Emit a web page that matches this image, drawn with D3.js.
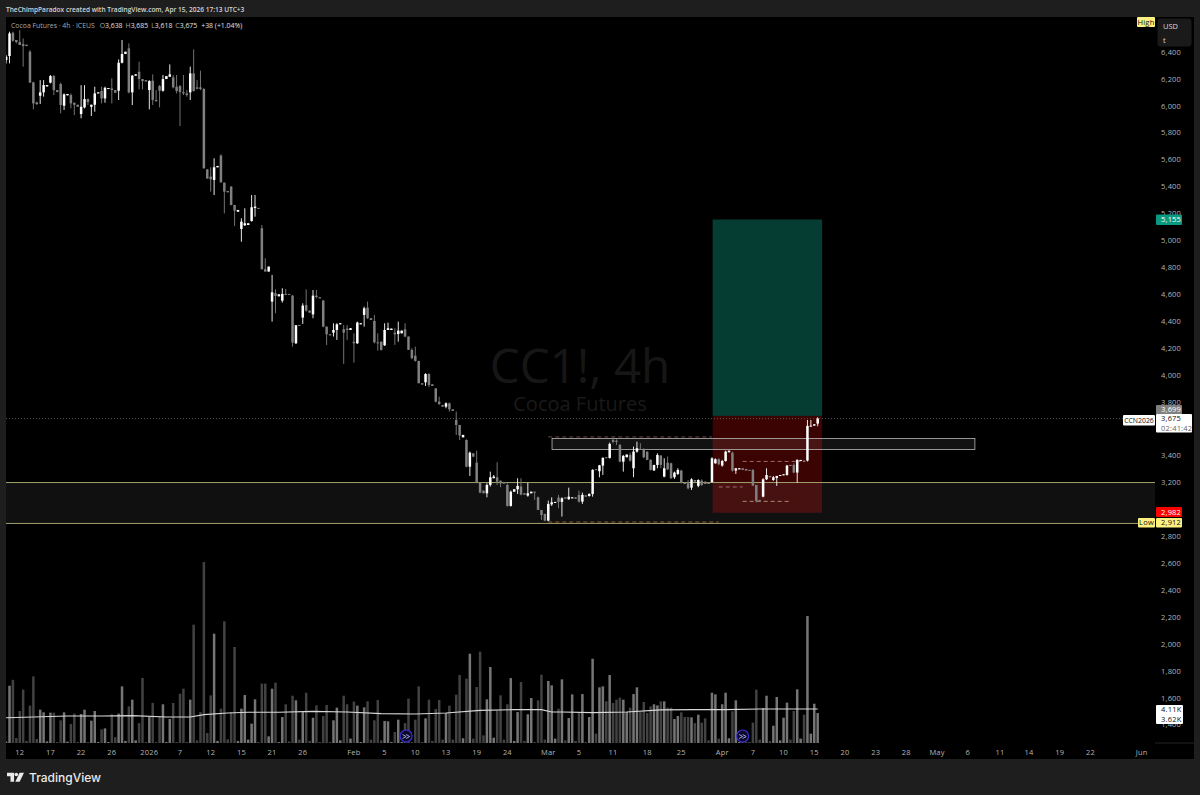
<!DOCTYPE html>
<html><head><meta charset="utf-8">
<script src="https://cdn.jsdelivr.net/npm/d3@7/dist/d3.min.js"></script>
<style>html,body{margin:0;padding:0;background:#1e1e1e;overflow:hidden}svg{display:block}text{font-family:"Open Sans",Roboto,sans-serif}</style>
</head><body><div id="chart"></div>
<script>
const opens=[6340,6370,6543,6489,6474,6459,6454,6402,6174,6026,
6075,6100,6144,6172,6221,6117,6162,6001,6078,6080,
6023,6008,5939,5988,6050,5993,6008,6092,6110,6055,
6127,6129,6117,6112,6320,6385,6427,6100,6224,6253,
6199,6191,6117,6187,6043,6147,6112,6199,6216,6211,
6142,6147,6102,6092,6100,6241,6137,6137,6125,5528,
5474,5449,5543,5630,5429,5367,5399,5263,5213,5085,
5112,5114,5144,5241,5241,5090,4785,4768,4545,4607,
4584,4552,4602,4602,4589,4235,4371,4426,4520,4478,
4450,4589,4577,4552,4359,4302,4314,4334,4376,4339,
4344,4334,4247,4235,4376,4446,4500,4421,4401,4242,
4247,4220,4334,4334,4314,4304,4309,4339,4285,4186,
4143,4104,3938,3945,4007,3930,3900,3801,3777,3764,
3789,3744,3665,3628,3536,3516,3318,3417,3348,3199,
3140,3120,3182,3232,3239,3214,3204,3182,3026,3132,
3150,3170,3120,3103,3120,3132,3090,2996,2967,2917,
3038,3048,3088,3056,3090,3076,3083,3090,3108,3058,
3105,3100,3115,3299,3284,3326,3388,3383,3516,3511,
3479,3355,3388,3405,3306,3430,3450,3447,3430,3368,
3289,3331,3400,3244,3348,3343,3239,3264,3289,3199,
3194,3162,3219,3175,3214,3207,3199,3204,3343,3373,
3326,3360,3425,3422,3289,3298,3306,3301,3294,3294,
3182,3071,3095,3224,3249,3219,3234,3249,3254,3256,
3331,3331,3274,3360,3363,3363,3616,3623,3638];
const highs=[6377,6551,6551,6489,6563,6501,6454,6414,6179,6030,
6191,6191,6154,6229,6229,6117,6172,6092,6088,6092,
6023,6008,6154,6154,6055,6008,6142,6100,6142,6142,
6132,6204,6117,6345,6489,6402,6464,6229,6234,6328,
6199,6191,6191,6234,6117,6154,6229,6221,6308,6229,
6229,6154,6229,6117,6291,6419,6191,6261,6132,5528,
5543,5610,5553,5640,5429,5367,5404,5263,5226,5164,
5238,5127,5337,5337,5241,5114,4867,4805,4743,4636,
4599,4644,4639,4602,4594,4371,4371,4532,4636,4478,
4631,4631,4577,4557,4359,4302,4384,4384,4384,4371,
4371,4347,4309,4396,4384,4507,4545,4421,4446,4309,
4247,4384,4389,4344,4347,4396,4329,4384,4285,4198,
4210,4104,3938,4012,4012,3930,3900,3838,3777,3796,
3794,3744,3727,3628,3554,3521,3430,3417,3437,3199,
3140,3194,3281,3256,3351,3214,3204,3194,3140,3150,
3232,3232,3120,3199,3132,3132,3095,2996,2967,3066,
3090,3056,3108,3090,3090,3162,3090,3090,3140,3125,
3105,3120,3299,3299,3331,3388,3388,3497,3534,3521,
3487,3405,3408,3422,3467,3504,3492,3455,3430,3373,
3331,3417,3405,3380,3393,3348,3281,3306,3294,3199,
3219,3232,3219,3224,3224,3207,3199,3388,3380,3380,
3368,3437,3437,3430,3306,3306,3306,3301,3294,3299,
3182,3071,3232,3306,3249,3249,3249,3256,3261,3331,
3331,3343,3373,3368,3363,3665,3665,3633,3685];
const lows=[6315,6315,6476,6464,6452,6291,6444,6172,5974,6006,
6013,6068,6144,6167,6080,6102,5944,5969,6078,5981,
5931,5993,5907,5981,6006,5924,5956,6092,6018,6023,
6127,6018,6097,6043,6315,6385,6092,6006,6224,6122,
6122,6181,5974,6006,6030,5988,6105,6199,6216,6129,
6092,5850,6080,6068,6043,6105,6122,6117,5535,5459,
5362,5337,5543,5429,5201,5357,5260,5107,5213,4990,
5107,5114,5139,5176,5236,4785,4768,4768,4396,4458,
4584,4537,4594,4597,4210,4230,4364,4379,4470,4463,
4421,4569,4569,4354,4223,4294,4285,4260,4376,4082,
4260,4334,4091,4230,4376,4359,4416,4408,4235,4181,
4181,4215,4334,4334,4223,4247,4309,4280,4186,4116,
4099,3938,3928,3918,3908,3918,3796,3777,3764,3752,
3727,3732,3554,3516,3536,3313,3249,3388,3194,3120,
3120,3090,3170,3232,3182,3165,3192,3021,3021,3132,
3115,3105,3110,3095,3120,3071,2996,2922,2912,2912,
3026,3048,3009,2947,3080,3071,3083,3080,3051,3041,
3095,3095,3095,3294,3239,3256,3383,3378,3492,3479,
3351,3281,3388,3355,3240,3422,3442,3380,3368,3289,
3289,3306,3306,3239,3294,3227,3227,3256,3194,3189,
3150,3145,3207,3165,3175,3189,3189,3199,3340,3328,
3318,3355,3425,3281,3264,3298,3294,3289,3289,3175,
3051,3066,3090,3219,3239,3212,3175,3249,3254,3251,
3323,3269,3199,3360,3353,3356,3616,3623,3618];
const closes=[6365,6538,6484,6474,6452,6444,6444,6172,6018,6013,
6100,6154,6154,6221,6117,6102,6006,6085,6088,6018,
6008,5993,5993,6050,6028,6008,6092,6100,6055,6134,
6132,6117,6097,6320,6385,6402,6100,6224,6234,6199,
6184,6181,6184,6043,6035,6112,6199,6221,6234,6137,
6110,6102,6092,6080,6241,6110,6127,6125,5535,5459,
5454,5543,5553,5431,5362,5357,5263,5221,5226,5139,
5127,5127,5246,5251,5236,4785,4768,4805,4614,4587,
4599,4602,4594,4597,4240,4369,4364,4515,4478,4463,
4589,4579,4569,4359,4302,4294,4334,4376,4384,4314,
4334,4347,4235,4389,4384,4495,4421,4408,4242,4235,
4186,4334,4347,4344,4302,4329,4329,4285,4186,4124,
4104,3938,3928,4007,3925,3918,3801,3784,3764,3789,
3744,3732,3628,3549,3554,3318,3422,3393,3199,3125,
3120,3182,3239,3244,3207,3194,3192,3026,3132,3150,
3175,3110,3110,3120,3132,3125,2996,2959,2917,3041,
3053,3056,3056,3083,3080,3095,3090,3080,3058,3108,
3095,3115,3294,3294,3328,3383,3383,3487,3502,3502,
3355,3398,3408,3363,3430,3455,3442,3388,3368,3294,
3331,3405,3331,3306,3298,3232,3274,3294,3199,3189,
3157,3224,3207,3219,3182,3189,3189,3380,3373,3336,
3360,3430,3437,3289,3306,3306,3294,3289,3289,3177,
3063,3066,3224,3256,3239,3239,3249,3256,3261,3326,
3323,3274,3368,3368,3353,3621,3623,3633,3675];
const volumes=[.19,6.93,7.64,.6,3.87,6.45,.25,4.52,8.06,.48,
4.03,3.71,.2,3.67,3.67,.12,2.74,3.71,.16,2.3,
3.55,.12,3.51,4.03,.12,2.7,3.87,.12,1.65,1.77,
.12,3.47,.69,3.55,6.85,.25,4.43,5.24,.32,2.41,
7.86,.12,3.14,4.84,.12,3.22,4.68,.12,2.9,4.84,
.12,5.96,6.57,.12,5.24,14.31,.32,3.74,21.88,1.21,
5.76,13.22,.25,4.15,14.71,.44,3.74,11.61,.25,4.15,
5.8,.41,2.34,5.28,.12,7.18,7.18,.8,6.57,7.3,
.12,3.14,4.68,.19,5.72,5.16,.41,3.74,6.08,.25,
3.06,4.55,.12,3.26,4.59,.12,2.74,4.27,.32,5.72,
4.68,.53,5,4.52,.12,4.31,5.04,.41,2.74,5.2,
.32,2.66,2.62,.12,1.33,2.82,.12,2.41,5.36,.12,
2.82,6.85,.12,2.98,5.24,.25,4.11,5.2,.41,3.63,
4.52,.41,5.85,8.22,.57,7.78,10.8,.53,6.77,11.04,
.92,5.28,9.19,.64,3.95,5.76,.41,4.68,7.85,.25,
3.74,7.37,.25,3.47,5.44,.12,5.16,8.26,.41,7.5,
6.97,.53,4.15,7.7,.32,3.02,5.88,.25,3.74,5.92,
.12,3.14,10.19,1.13,6.73,6.85,5.04,8.22,4.84,5.24,
5.48,5.24,3.74,4.27,5.92,6.73,3.74,4.96,3.63,4.43,
4.68,4.55,5.04,5.04,4.27,4.27,2.9,3.26,3.71,3.14,
3.14,3.1,2.41,3.42,2.46,2.98,.32,6.08,5.88,.53,
4.68,6.08,.57,3.83,5.16,.12,.25,.12,.12,2.46,
6.45,.41,4.23,5.72,.25,2.09,5.56,.32,3.06,4.88,
.41,3.87,6.49,.53,3.42,15.35,1.13,4.75,3.62];
const maBars=[0,8,18,28,37,47,54,58,65,71,80,90,100,110,120,129,139,149,157,160,163,172,182,192,202,211,221,231,238];
const maValues=[3.06,3.15,3.27,3.27,3.31,3.15,3.15,3.43,3.63,3.71,3.71,3.83,3.75,3.55,3.51,3.63,3.95,4.03,4.03,3.75,3.75,3.67,3.75,4,4.03,4.03,4.11,4.11,4.11];
const priceTicks=[6400,6200,6000,5800,5600,5400,5200,5000,4800,4600,4400,4200,4000,3800,3400,3200,2800,2600,2400,2200,2000,1800,1600,1400];
const timeLabels=["12","17","22","26","2026","7","12","15","21","26","Feb","5","10","13","19","24","Mar","5","11","18","25","Apr","7","10","15","20","23","28","May","6","11","14","19","22","Jun"];
const timeBars=[4,13,22,31,42,51,60,69,78,87,102,111,120,129,138,147,159,168,178,188,198,210,219,228,237,246,255,264,273,282,291.5,300,309,318,333];
const zonePrices=[3200,2896];
const rangeBoxPrices=[3528,3446];
const rangeBoxBars=[160.1,284.1];
const positionBars=[207.2,239.3];
const positionPrices=[5155,3695,2975];
const dashPrices=[3539,2907,3357,3167,3060];
const dashFrom=[159,159,216,209,216];
const dashTo=[207,209,233,216,230];
const dashColors=["#6e4646","#8a5c32","#a06a6a","#a06a6a","#a88a6a"];
const eventBars=[117.3,216];

const W=1200,H=795,L=6,R=1155,AR=1194,T=17,B=759,AX=743;
const x=d3.scaleLinear().domain([0,100]).range([6.1,347.1]);
const y=d3.scaleLinear().domain([6400,1600]).range([52,697.8]);
const v=d3.scaleLinear().domain([0,10]).range([AX,AX-82.7]);
const bars=d3.range(opens.length);
const svg=d3.select("#chart").append("svg").attr("width",W).attr("height",H).attr("viewBox",`0 0 ${W} ${H}`);
svg.append("rect").attr("width",W).attr("height",H).attr("fill","#1e1e1e");
svg.append("rect").attr("x",L).attr("y",T).attr("width",AR-L).attr("height",B-T).attr("fill","#000");
svg.append("defs").append("clipPath").attr("id","pane").append("rect").attr("x",L).attr("y",T).attr("width",R-L).attr("height",AX-T);
const pane=svg.append("g").attr("clip-path","url(#pane)");

// watermark
pane.append("text").attr("x",580).attr("y",383).attr("text-anchor","middle").attr("font-size",47.5).attr("fill","#161616").text("CC1!, 4h");
pane.append("text").attr("x",580).attr("y",411).attr("text-anchor","middle").attr("font-size",20).attr("fill","#1a1a1a").text("Cocoa Futures");

// zone
pane.append("rect").attr("x",L).attr("width",R-L).attr("y",y(zonePrices[0])).attr("height",y(zonePrices[1])-y(zonePrices[0])).attr("fill","#101010");

// position
pane.append("rect").attr("x",x(positionBars[0])).attr("width",x(positionBars[1])-x(positionBars[0])).attr("y",y(positionPrices[0])).attr("height",y(positionPrices[1])-y(positionPrices[0])).attr("fill","#053d32");
pane.append("rect").attr("x",x(positionBars[0])).attr("width",x(positionBars[1])-x(positionBars[0])).attr("y",y(positionPrices[1])).attr("height",y(positionPrices[2])-y(positionPrices[1])).attr("fill","#3c0303");
pane.append("rect").attr("x",x(positionBars[0])).attr("width",x(positionBars[1])-x(positionBars[0])).attr("y",y(zonePrices[0])).attr("height",y(positionPrices[2])-y(zonePrices[0])).attr("fill","#ffffff").attr("opacity",.06);

// range box
pane.append("rect").attr("x",x(rangeBoxBars[0])).attr("width",x(rangeBoxBars[1])-x(rangeBoxBars[0])).attr("y",y(rangeBoxPrices[0])).attr("height",y(rangeBoxPrices[1])-y(rangeBoxPrices[0])).attr("fill","#fff").attr("fill-opacity",.07).attr("stroke","#b8b8b8").attr("stroke-width",.8);

// zone lines
pane.selectAll("line.zone").data(zonePrices).join("line").attr("x1",L).attr("x2",R).attr("y1",d=>y(d)).attr("y2",d=>y(d)).attr("stroke","#a3a06c").attr("stroke-width",1);
// last price dotted
pane.append("line").attr("x1",L).attr("x2",R).attr("y1",y(closes[238])).attr("y2",y(closes[238])).attr("stroke","#5a5a5a").attr("stroke-width",1).attr("stroke-dasharray","1 2");
// dashes
pane.selectAll("line.dash").data(dashPrices).join("line").attr("x1",(d,i)=>x(dashFrom[i])).attr("x2",(d,i)=>x(dashTo[i])).attr("y1",d=>y(d)).attr("y2",d=>y(d)).attr("stroke",(d,i)=>dashColors[i]).attr("stroke-width",1).attr("stroke-dasharray","4 3");

// volume
const upV="#757575",dnV="#424242";
pane.selectAll("rect.vol").data(bars).join("rect").attr("x",i=>x(i)-1.25).attr("width",2.5).attr("y",i=>v(volumes[i])).attr("height",i=>AX-v(volumes[i])).attr("fill",i=>closes[i]>=opens[i]?upV:dnV);
pane.append("path").datum(maBars).attr("fill","none").attr("stroke","#d8d8d8").attr("stroke-width",1.1).attr("d",d3.line().x(b=>x(b)).y((b,k)=>v(maValues[k])));

// candles
const upC="#ffffff",dnC="#808080";
const col=i=>closes[i]>=opens[i]?upC:dnC;
pane.selectAll("line.wick").data(bars).join("line").attr("x1",i=>x(i)).attr("x2",i=>x(i)).attr("y1",i=>y(highs[i])).attr("y2",i=>y(lows[i])).attr("stroke",col).attr("stroke-width",.9);
pane.selectAll("rect.body").data(bars).join("rect").attr("x",i=>x(i)-1.25).attr("width",2.5)
 .attr("y",i=>y(Math.max(opens[i],closes[i]))).attr("height",i=>Math.max(1,Math.abs(y(opens[i])-y(closes[i])))).attr("fill",col);

// event icons
const ev=svg.selectAll("g.ev").data(eventBars).join("g").attr("transform",b=>`translate(${x(b)},736)`);
ev.append("circle").attr("r",6).attr("fill","#0b0a2a").attr("stroke","#3a2fd0").attr("stroke-width",1.2);
ev.append("path").attr("d","M-3.5,-1.5 L0,0.5 L-3.5,2.5 M0,-1.5 L3.5,0.5 L0,2.5").attr("fill","none").attr("stroke","#b9b4f5").attr("stroke-width",.9);

// price axis
const fmt=d3.format(",");
const AF=7.5;
svg.selectAll("text.pt").data(priceTicks).join("text").attr("class","pt").attr("x",1161).attr("y",d=>y(d)+2.7).attr("font-size",AF).attr("letter-spacing",.2).attr("fill","#b4b4b4").text(d=>fmt(d));
// time axis
svg.append("line").attr("x1",R).attr("x2",AR).attr("y1",AX).attr("y2",AX).attr("stroke","#222");
svg.selectAll("text.tt").data(timeLabels).join("text").attr("class","tt").attr("x",(d,i)=>x(timeBars[i])).attr("y",754.5).attr("text-anchor","middle").attr("font-size",AF).attr("letter-spacing",.2).attr("fill","#b4b4b4").text(d=>d);

// tags
function tag(x0,y0,w,h,bg,lines,color,centered,size){
 svg.append("rect").attr("x",x0).attr("y",y0).attr("width",w).attr("height",h).attr("fill",bg).attr("rx",1);
 const step=h/lines.length;
 lines.forEach((t,k)=>svg.append("text").attr("x",centered?x0+w/2:x0+5).attr("y",y0+step*(k+.5)+2.7).attr("text-anchor",centered?"middle":"start").attr("font-size",size||AF).attr("letter-spacing",size?0:.2).attr("fill",Array.isArray(color)?color[k]:color).text(t));
}
tag(1137,17,18,10,"#fdf07e",["High"],"#111",true);
svg.append("rect").attr("x",1157.5).attr("y",18.5).attr("width",34).attr("height",28).attr("rx",3).attr("fill","#1a1a1a");
svg.append("text").attr("x",1163).attr("y",28.5).attr("font-size",AF).attr("fill","#d8d8d8").text("USD");
svg.append("text").attr("x",1163).attr("y",43).attr("font-size",AF).attr("fill","#d8d8d8").text("t");
tag(1156,214.5,26,10.5,"#089981",["5,155"],"#fff");
tag(1156,405,26,9.5,"#808080",["3,699"],"#fff");
tag(1123,415,32,10.5,"#fff",["CCN2026"],"#111",true,6.9);
tag(1156,414,36,18.5,"#fff",["3,675","02:41:42"],["#111","#666"]);
tag(1156,507,26,10,"#ff0000",["2,982"],"#fff");
tag(1138,518,17,9.5,"#fdf07e",["Low"],"#111",true);
tag(1156,518,26,9.5,"#fdf07e",["2,912"],"#111");
tag(1156,705,27,19,"#fff",["4.11K","3.62K"],"#111");

// header & legend
svg.append("text").attr("x",6).attr("y",11.5).attr("font-size",6.55).attr("font-weight",600).attr("fill","#d4d4d4").text("TheChimpParadox created with TradingView.com, Apr 15, 2026 17:13 UTC+3");
const leg=svg.append("text").attr("x",11).attr("y",27.5).attr("font-size",6.9).attr("fill","#a8a8a8");
leg.append("tspan").text("Cocoa Futures · 4h · ICEUS  ");
[["O","3,638"],["H","3,685"],["L","3,618"],["C","3,675"]].forEach(([a,b])=>{leg.append("tspan").attr("dx",3).text(a);leg.append("tspan").attr("fill","#e0e0e0").text(b);});
leg.append("tspan").attr("dx",4).attr("fill","#e0e0e0").text("+38 (+1.04%)");

// footer logo
const logo=svg.append("g").attr("transform","translate(7,772.7) scale(.83)").attr("fill","#eaeaea");
logo.append("path").attr("d","M0 0H8.5V11H4.2V4.2H0Z");
logo.append("circle").attr("cx",11.2).attr("cy",2.2).attr("r",2.2);
logo.append("path").attr("d","M15.2 0H20.5L15.2 11H10Z");
svg.append("text").attr("x",29).attr("y",782).attr("font-size",12).attr("font-weight",500).attr("fill","#eaeaea").style("font-family","Inter,Roboto,sans-serif").text("TradingView");
</script></body></html>
